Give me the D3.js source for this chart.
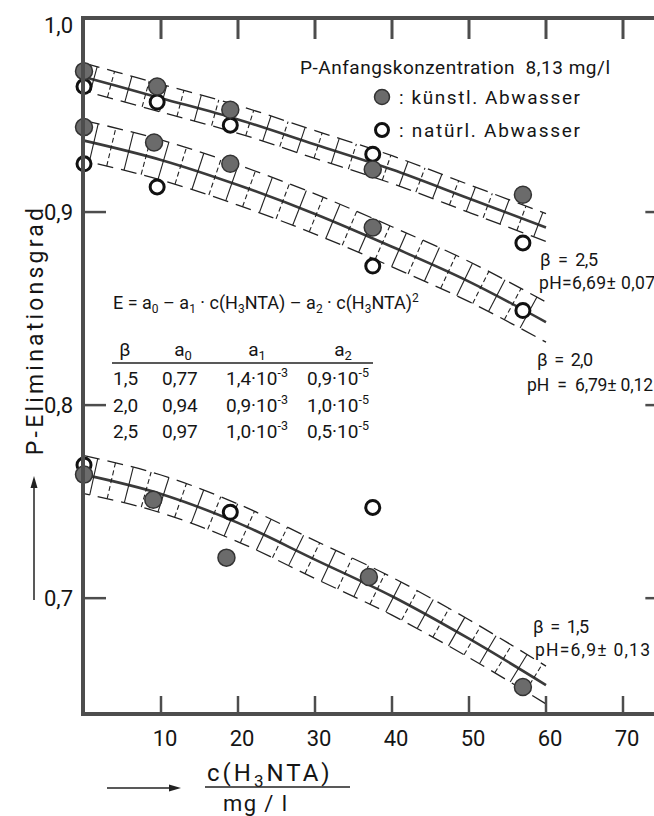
<!DOCTYPE html>
<html><head><meta charset="utf-8">
<script src="https://cdn.jsdelivr.net/npm/d3@7"></script>
<style>
body{margin:0;background:#fff}
svg{display:block}
text{font-family:Roboto,'Liberation Sans',sans-serif;fill:#151515}
</style>
</head><body>
<svg id="c" width="654" height="816"></svg>
<script>
// ---- data ----
const xTicks = [10, 20, 30, 40, 50, 60, 70];
const xTickLabels = ["10", "20", "30", "40", "50", "60", "70"];
const yTicks = [0.7, 0.8, 0.9, 1.0];
const yTickLabels = ["0,7", "0,8", "0,9", "1,0"];

// fitted curves
const fitC  = [0, 10, 20, 30, 40, 50, 60];
const fit15 = [0.764, 0.754, 0.739, 0.720, 0.701, 0.679, 0.655];
const fit20 = [0.937, 0.927, 0.914, 0.899, 0.882, 0.864, 0.843];
const fit25 = [0.970, 0.959, 0.948, 0.935, 0.922, 0.907, 0.892];
const bandHalf = [0.0098, 0.0104, 0.0072];

// measured points: künstl. (filled) / natürl. (open)
const k15C = [0, 9, 18.5, 37, 57],      k15 = [0.764, 0.751, 0.721, 0.711, 0.654];
const n15C = [0, 19, 37.5],             n15 = [0.769, 0.7445, 0.747];
const k20C = [0, 9.1, 19, 37.5],        k20 = [0.944, 0.936, 0.925, 0.892];
const n20C = [0, 9.5, 37.5, 57],        n20 = [0.925, 0.913, 0.872, 0.849];
const k25C = [0, 9.5, 19, 37.5, 57],    k25 = [0.973, 0.965, 0.953, 0.922, 0.909];
const n25C = [0, 9.5, 19, 37.5, 57],    n25 = [0.965, 0.957, 0.945, 0.930, 0.884];

const tableHead = ["β", "a", "a", "a"];
const tableRows = [
  ["1,5", "0,77", ["1,4·10", "-3"], ["0,9·10", "-5"]],
  ["2,0", "0,94", ["0,9·10", "-3"], ["1,0·10", "-5"]],
  ["2,5", "0,97", ["1,0·10", "-3"], ["0,5·10", "-5"]]
];

// ---- layout ----
const svg = d3.select("#c");
const x = d3.scaleLinear().domain([0, 70]).range([84, 623]);
const y = d3.scaleLinear().domain([0.64, 1.0]).range([714, 19]);
const frameCol = "#4d4d4d";
const xR = x(75.5);

// bands + curves
const fits = [fit15, fit20, fit25];
const lineGen = d3.line().x(d => x(d[0])).y(d => y(d[1])).curve(d3.curveMonotoneX);
const gBand = svg.append("g");
fits.forEach((f, i) => {
  const h = bandHalf[i];
  const pts = fitC.map((c, j) => [c, f[j]]);
  const up = fitC.map((c, j) => [c, f[j] + h]);
  const lo = fitC.map((c, j) => [c, f[j] - h]);
  [up, lo].forEach((b, bi) => {
    gBand.append("path").attr("d", lineGen(b)).attr("fill", "none")
      .attr("stroke", "#222").attr("stroke-width", 1.3)
      .attr("stroke-dasharray", "16,8")
      .attr("stroke-dashoffset", bi === 0 ? 0 : 10);
  });
  const center = gBand.append("path").attr("d", lineGen(pts)).attr("fill", "none")
    .attr("stroke", "#3a3a3a").attr("stroke-width", 2.6);
  // perpendicular hatch rungs placed along the drawn curve
  const node = center.node();
  const L = node.getTotalLength();
  const hp = Math.abs(y(f[0] + h) - y(f[0]));
  let k = 0;
  for (let s = 10; s < L - 4; s += 18, k++) {
    const p = node.getPointAtLength(s);
    const q = node.getPointAtLength(Math.min(L, s + 1));
    let tx = q.x - p.x, ty = q.y - p.y;
    const n = Math.hypot(tx, ty) || 1; tx /= n; ty /= n;
    const nx = ty, ny = -tx;
    const half = hp * Math.abs(tx);
    gBand.append("line")
      .attr("x1", p.x - nx * half).attr("y1", p.y - ny * half)
      .attr("x2", p.x + nx * half).attr("y2", p.y + ny * half)
      .attr("stroke", "#222").attr("stroke-width", 1.1)
      .attr("stroke-dasharray", k % 2 ? "5,3" : null);
  }
});

// markers
const gM = svg.append("g");
function openPts(cs, vs) {
  gM.selectAll(null).data(cs.map((c, i) => [c, vs[i]])).enter().append("circle")
    .attr("cx", d => x(d[0])).attr("cy", d => y(d[1])).attr("r", 7)
    .attr("fill", "#fff").attr("stroke", "#111").attr("stroke-width", 3);
}
function fillPts(cs, vs) {
  gM.selectAll(null).data(cs.map((c, i) => [c, vs[i]])).enter().append("circle")
    .attr("cx", d => x(d[0])).attr("cy", d => y(d[1])).attr("r", 8.5)
    .attr("fill", "#6b6b6b").attr("stroke", "#333").attr("stroke-width", 1.5);
}
openPts(n15C, n15); openPts(n20C, n20); openPts(n25C, n25);
fillPts(k15C, k15); fillPts(k20C, k20); fillPts(k25C, k25);

// frame
const gF = svg.append("g").attr("stroke", frameCol).attr("fill", "none");
gF.append("rect").attr("x", x(0) - 1).attr("y", y(1.0) - 1)
  .attr("width", xR - x(0) + 1).attr("height", y(0.64) - y(1.0) + 1)
  .attr("stroke-width", 4);
xTicks.forEach(t => {
  gF.append("line").attr("x1", x(t)).attr("x2", x(t)).attr("y1", y(1.0)).attr("y2", y(1.0) + 20).attr("stroke-width", 3);
  gF.append("line").attr("x1", x(t)).attr("x2", x(t)).attr("y1", y(0.64)).attr("y2", y(0.64) - 18).attr("stroke-width", 2.5);
});
yTicks.filter(t => t < 1).forEach(t => {
  gF.append("line").attr("x1", x(0)).attr("x2", x(0) + 22).attr("y1", y(t)).attr("y2", y(t)).attr("stroke-width", 2.5);
  gF.append("line").attr("x1", xR).attr("x2", xR - 20).attr("y1", y(t)).attr("y2", y(t)).attr("stroke-width", 2.5);
});

// tick labels
const gT = svg.append("g").attr("font-size", 22);
xTicks.forEach((t, i) => {
  gT.append("text").attr("x", x(t) + 4).attr("y", 746).attr("text-anchor", "middle").text(xTickLabels[i]);
});
yTicks.forEach((t, i) => {
  gT.append("text").attr("x", 73).attr("y", (t === 1.0 ? y(t) + 6 : y(t)) + 8).attr("text-anchor", "end").text(yTickLabels[i]);
});

// axis titles
svg.append("text").attr("transform", "translate(43,330) rotate(-90)")
  .attr("text-anchor", "middle").attr("font-size", 23).attr("letter-spacing", 3.2)
  .text("P-Eliminationsgrad");
svg.append("line").attr("x1", 34).attr("x2", 34).attr("y1", 600).attr("y2", 484)
  .attr("stroke", "#222").attr("stroke-width", 1.5);
svg.append("path").attr("d", "M34,476 L30.5,488 L37.5,488 Z").attr("fill", "#222");

const xt = svg.append("text").attr("x", 207).attr("y", 781).attr("font-size", 24).attr("letter-spacing", 3);
xt.append("tspan").text("c(H");
xt.append("tspan").attr("font-size", 17).attr("dy", 6).text("3");
xt.append("tspan").attr("dy", -6).text("NTA)");
svg.append("line").attr("x1", 205).attr("x2", 350).attr("y1", 787).attr("y2", 787).attr("stroke", "#222").attr("stroke-width", 1.5);
svg.append("text").attr("x", 223).attr("y", 811).attr("font-size", 22)
  .attr("textLength", 64).attr("lengthAdjust", "spacing").style("white-space", "pre").text("mg / l");
svg.append("line").attr("x1", 107).attr("x2", 172).attr("y1", 788).attr("y2", 788).attr("stroke", "#222").attr("stroke-width", 1.5);
svg.append("path").attr("d", "M181,788 L169,784.5 L169,791.5 Z").attr("fill", "#222");

// legend
svg.append("text").attr("x", 300).attr("y", 74).attr("font-size", 19)
  .attr("textLength", 310).attr("lengthAdjust", "spacing")
  .style("white-space", "pre")
  .text("P-Anfangskonzentration  8,13 mg/l");
svg.append("circle").attr("cx", 382).attr("cy", 97).attr("r", 7.5).attr("fill", "#6b6b6b").attr("stroke", "#333").attr("stroke-width", 1.5);
svg.append("circle").attr("cx", 382).attr("cy", 130).attr("r", 6.5).attr("fill", "#fff").attr("stroke", "#111").attr("stroke-width", 3);
svg.append("text").attr("x", 399).attr("y", 104).attr("font-size", 19)
  .attr("textLength", 181).attr("lengthAdjust", "spacing").text(": künstl. Abwasser");
svg.append("text").attr("x", 399).attr("y", 137).attr("font-size", 19)
  .attr("textLength", 181).attr("lengthAdjust", "spacing").text(": natürl. Abwasser");

// equation
const eq = svg.append("text").attr("x", 113).attr("y", 309).attr("font-size", 18);
function sub(t, s) { t.append("tspan").attr("font-size", 12).attr("dy", 4).text(s); }
eq.append("tspan").text("E = a"); sub(eq, "0");
eq.append("tspan").attr("dy", -4).text(" – a"); sub(eq, "1");
eq.append("tspan").attr("dy", -4).text(" · c(H"); sub(eq, "3");
eq.append("tspan").attr("dy", -4).text("NTA) – a"); sub(eq, "2");
eq.append("tspan").attr("dy", -4).text(" · c(H"); sub(eq, "3");
eq.append("tspan").attr("dy", -4).text("NTA)");
eq.append("tspan").attr("font-size", 12).attr("dy", -7).text("2");

// table
const headX = [125, 183, 257, 343];
tableHead.forEach((h, i) => {
  const t = svg.append("text").attr("x", headX[i]).attr("y", 356).attr("font-size", 19).attr("text-anchor", "middle");
  t.append("tspan").text(h);
  if (i > 0) t.append("tspan").attr("font-size", 13).attr("dy", 4).text(String(i - 1));
});
svg.append("line").attr("x1", 112).attr("x2", 373).attr("y1", 363).attr("y2", 363).attr("stroke", "#222").attr("stroke-width", 1.3);
const colX = [113, 162, 226, 307];
tableRows.forEach((r, ri) => {
  const yy = 385 + ri * 26.5;
  r.forEach((cell, ci) => {
    const t = svg.append("text").attr("x", colX[ci]).attr("y", yy).attr("font-size", 19);
    if (Array.isArray(cell)) {
      t.append("tspan").text(cell[0]);
      t.append("tspan").attr("font-size", 12.5).attr("dy", -8).text(cell[1]);
    } else t.text(cell);
  });
});

// annotations
const ann = [
  [540, 266, "β  =  2,5", 18, 58], [539, 289, "pH=6,69± 0,07", 17.5, 116],
  [537, 366, "β  =  2,0", 18, 56], [527, 391, "pH  =  6,79± 0,12", 17.5, 126],
  [533, 633, "β  =  1,5", 18, 56], [535, 656, "pH=6,9± 0,13", 17.5, 115]
];
ann.forEach(a => {
  svg.append("text").attr("x", a[0]).attr("y", a[1]).attr("font-size", a[3])
    .attr("textLength", a[4]).attr("lengthAdjust", "spacing")
    .style("white-space", "pre").text(a[2]);
});
</script>
</body></html>
